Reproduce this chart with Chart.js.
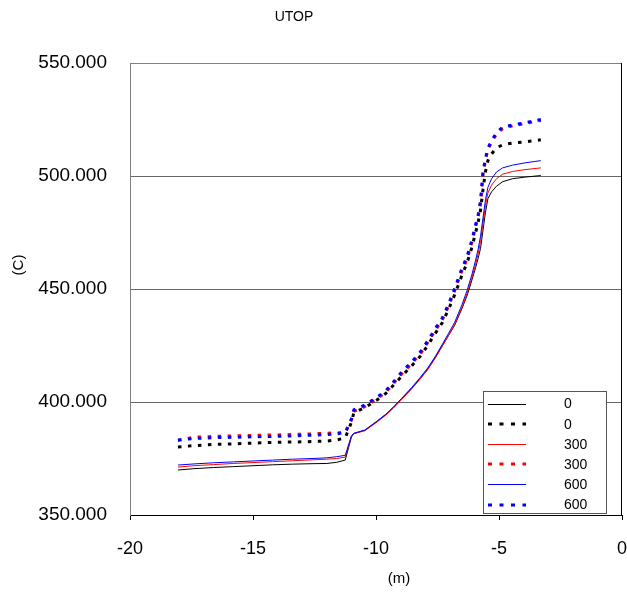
<!DOCTYPE html>
<html>
<head>
<meta charset="utf-8">
<script src="https://cdn.jsdelivr.net/npm/chart.js@4.4.0/dist/chart.umd.min.js"></script>
<style>
  html, body { margin: 0; padding: 0; background: #fff; overflow: hidden; }
  #wrap { position: relative; width: 627px; height: 596px; overflow: hidden; }
  .lbl { position: absolute; font: 15px "Liberation Sans", Arial, sans-serif; color: #000;
         line-height: 18px; white-space: nowrap; }
  #title { left: 0; top: 7px; width: 588px; text-align: center; font-size: 14px; }
  #xtitle { left: 359px; top: 569px; width: 80px; text-align: center; }
  #ytitle { left: -22px; top: 256px; width: 80px; text-align: center; transform: rotate(-90deg); }
</style>
</head>
<body>
<div id="wrap">
  <canvas id="chart" width="627" height="596"></canvas>
  <div id="title" class="lbl">UTOP</div>
  <div id="xtitle" class="lbl">(m)</div>
  <div id="ytitle" class="lbl">(C)</div>
</div>
<script>
// depth positions (m)
var depths = [-18.05, -17.4, -16.6, -15.8, -15.0, -14.2, -13.4, -12.6, -12.0, -11.6,
  -11.25, -11.0, -10.9, -10.45, -9.95, -9.6, -9.3, -8.95, -8.55, -8.2,
  -7.9, -7.6, -7.3, -7.05, -6.8, -6.5, -6.3, -6.1, -5.95, -5.85,
  -5.75, -5.65, -5.55, -5.45, -5.3, -5.1, -4.85, -4.45, -3.95, -3.3];

// solid series (C)
var solid0 = [369.9, 370.5, 371.0, 371.4, 371.8, 372.2, 372.5, 372.7, 372.8, 373.3,
  374.3, 384.5, 386.0, 387.5, 391.5, 394.5, 397.5, 401.5, 406.0, 410.5,
  414.5, 419.5, 425.0, 429.5, 434.0, 441.5, 447.0, 454.0, 459.5, 463.5,
  468.0, 476.0, 484.0, 490.0, 493.0, 495.5, 497.5, 498.8, 499.5, 500.2];
var solid300 = [371.2, 371.8, 372.3, 372.8, 373.2, 373.6, 374.0, 374.4, 374.7, 375.0,
  375.6, 384.8, 386.0, 387.3, 391.2, 394.2, 397.2, 401.2, 405.8, 410.2,
  414.3, 419.3, 424.8, 429.5, 434.3, 442.0, 448.0, 455.0, 461.0, 465.5,
  471.0, 479.0, 487.0, 492.5, 496.0, 498.8, 500.8, 502.0, 502.8, 503.6];
var solid600 = [372.1, 372.6, 373.1, 373.5, 373.9, 374.3, 374.7, 375.0, 375.3, 375.8,
  376.4, 385.0, 386.2, 387.6, 391.6, 394.6, 397.7, 401.7, 406.4, 410.9,
  415.0, 420.0, 425.6, 430.4, 435.3, 443.2, 449.3, 456.5, 462.8, 467.5,
  473.5, 481.5, 489.5, 495.0, 498.8, 501.8, 503.6, 504.8, 505.8, 506.8];

// dotted series (C)
var dot0 = [380.1, 380.7, 381.2, 381.5, 381.8, 382.1, 382.3, 382.5, 382.7, 383.2,
  384.1, 391.0, 395.3, 397.5, 401.0, 403.8, 407.3, 411.5, 416.0, 420.3,
  425.0, 430.2, 435.2, 441.0, 447.5, 456.3, 461.5, 468.5, 475.0, 479.5,
  485.0, 494.0, 502.0, 506.8, 509.8, 512.5, 513.8, 514.6, 515.1, 516.0];
var dot300 = [383.0, 384.4, 384.8, 385.0, 385.2, 385.4, 385.6, 385.9, 386.2, 386.3,
  386.6, 392.0, 395.8, 398.0, 401.5, 404.3, 408.0, 412.5, 417.0, 421.3,
  426.3, 431.5, 436.5, 442.5, 449.3, 458.3, 463.3, 470.7, 477.5, 481.7,
  488.0, 500.8, 507.0, 511.8, 515.0, 518.6, 521.0, 522.2, 523.2, 524.6];
var dot600 = [383.2, 383.9, 384.2, 384.4, 384.6, 384.8, 385.0, 385.3, 385.6, 385.9,
  386.5, 392.5, 396.5, 398.7, 402.2, 405.0, 408.8, 413.3, 417.7, 422.1,
  427.0, 432.3, 437.3, 443.3, 450.2, 459.3, 464.3, 471.7, 478.5, 482.7,
  489.0, 501.8, 507.8, 512.4, 515.6, 519.2, 521.6, 522.6, 523.5, 525.0];

var xTicks = [-20, -15, -10, -5, 0];
var yTicks = [350, 400, 450, 500, 550];

function pts(vals) {
  return vals.map(function (v, i) { return { x: depths[i], y: v }; });
}

var FONT = '"Liberation Sans", Arial, sans-serif';
var DASH = [3.5, 6.5];

var datasets = [
  { label: '0', data: pts(solid0), borderColor: '#000000', borderWidth: 1, order: 5 },
  { label: '0', data: pts(dot0), borderColor: '#000000', borderWidth: 3, borderDash: DASH, order: 4 },
  { label: '300', data: pts(solid300), borderColor: '#ff0000', borderWidth: 1, order: 3 },
  { label: '300', data: pts(dot300), borderColor: '#ff0000', borderWidth: 3, borderDash: DASH, order: 2 },
  { label: '600', data: pts(solid600), borderColor: '#0000ff', borderWidth: 1, order: 1 },
  { label: '600', data: pts(dot600), borderColor: '#0000ff', borderWidth: 3, borderDash: DASH, order: 0 }
];
datasets.forEach(function (d) {
  d.pointRadius = 0;
  d.fill = false;
  d.tension = 0;
  d.borderCapStyle = 'butt';
});

// frame on top and right, plus the boxed legend inside the plot
var framePlugin = {
  id: 'frame',
  afterDraw: function (chart) {
    var ctx = chart.ctx, a = chart.chartArea;
    ctx.save();
    ctx.lineWidth = 1;
    ctx.strokeStyle = '#808080';
    ctx.beginPath();
    ctx.moveTo(a.left, a.top + 0.5);
    ctx.lineTo(a.right, a.top + 0.5);
    ctx.stroke();
    ctx.strokeStyle = '#000';
    ctx.beginPath();
    ctx.moveTo(a.right - 0.5, a.top);
    ctx.lineTo(a.right - 0.5, a.bottom);
    ctx.stroke();

    // legend box
    var bx = 483.5, by = 391.5, bw = 123, bh = 122;
    ctx.fillStyle = '#fff';
    ctx.fillRect(bx, by, bw, bh);
    ctx.strokeStyle = '#555';
    ctx.strokeRect(bx, by, bw, bh);
    ctx.font = '14px ' + FONT;
    ctx.textBaseline = 'middle';
    ctx.textAlign = 'left';
    chart.data.datasets.forEach(function (d, i) {
      var y = 403.5 + i * 20.2;
      ctx.strokeStyle = d.borderColor;
      ctx.lineWidth = d.borderWidth;
      ctx.setLineDash(d.borderDash ? [4, 7.5] : []);
      ctx.beginPath();
      ctx.moveTo(488, Math.round(y) + (d.borderWidth === 1 ? 0.5 : 0));
      ctx.lineTo(526, Math.round(y) + (d.borderWidth === 1 ? 0.5 : 0));
      ctx.stroke();
      ctx.setLineDash([]);
      ctx.fillStyle = '#000';
      ctx.fillText(d.label, 564, y + 1);
    });
    ctx.restore();
  }
};

new Chart(document.getElementById('chart'), {
  type: 'line',
  data: { datasets: datasets },
  plugins: [framePlugin],
  options: {
    responsive: false,
    animation: false,
    devicePixelRatio: 1,
    layout: { padding: { top: 63, right: 5, left: 0, bottom: 0 } },
    plugins: { legend: { display: false }, tooltip: { enabled: false } },
    scales: {
      x: {
        type: 'linear',
        min: -20,
        max: 0,
        afterFit: function (s) { s.height = 81; s.paddingLeft = 0; s.paddingRight = 0; },
        afterBuildTicks: function (s) { s.ticks = xTicks.map(function (v) { return { value: v }; }); },
        ticks: { font: { family: FONT, size: 18 }, color: '#000', padding: 18 },
        grid: { drawOnChartArea: false, tickLength: 5, color: '#000' },
        border: { color: '#000' }
      },
      y: {
        min: 350,
        max: 550,
        afterFit: function (s) { s.width = 130; s.paddingTop = 0; s.paddingBottom = 0; },
        afterBuildTicks: function (s) { s.ticks = yTicks.map(function (v) { return { value: v }; }); },
        ticks: {
          font: { family: FONT, size: 19 }, color: '#000', padding: 23,
          callback: function (v) { return v.toFixed(3); }
        },
        grid: { drawTicks: false, color: '#666' },
        border: { color: '#808080' }
      }
    }
  }
});
</script>
</body>
</html>
